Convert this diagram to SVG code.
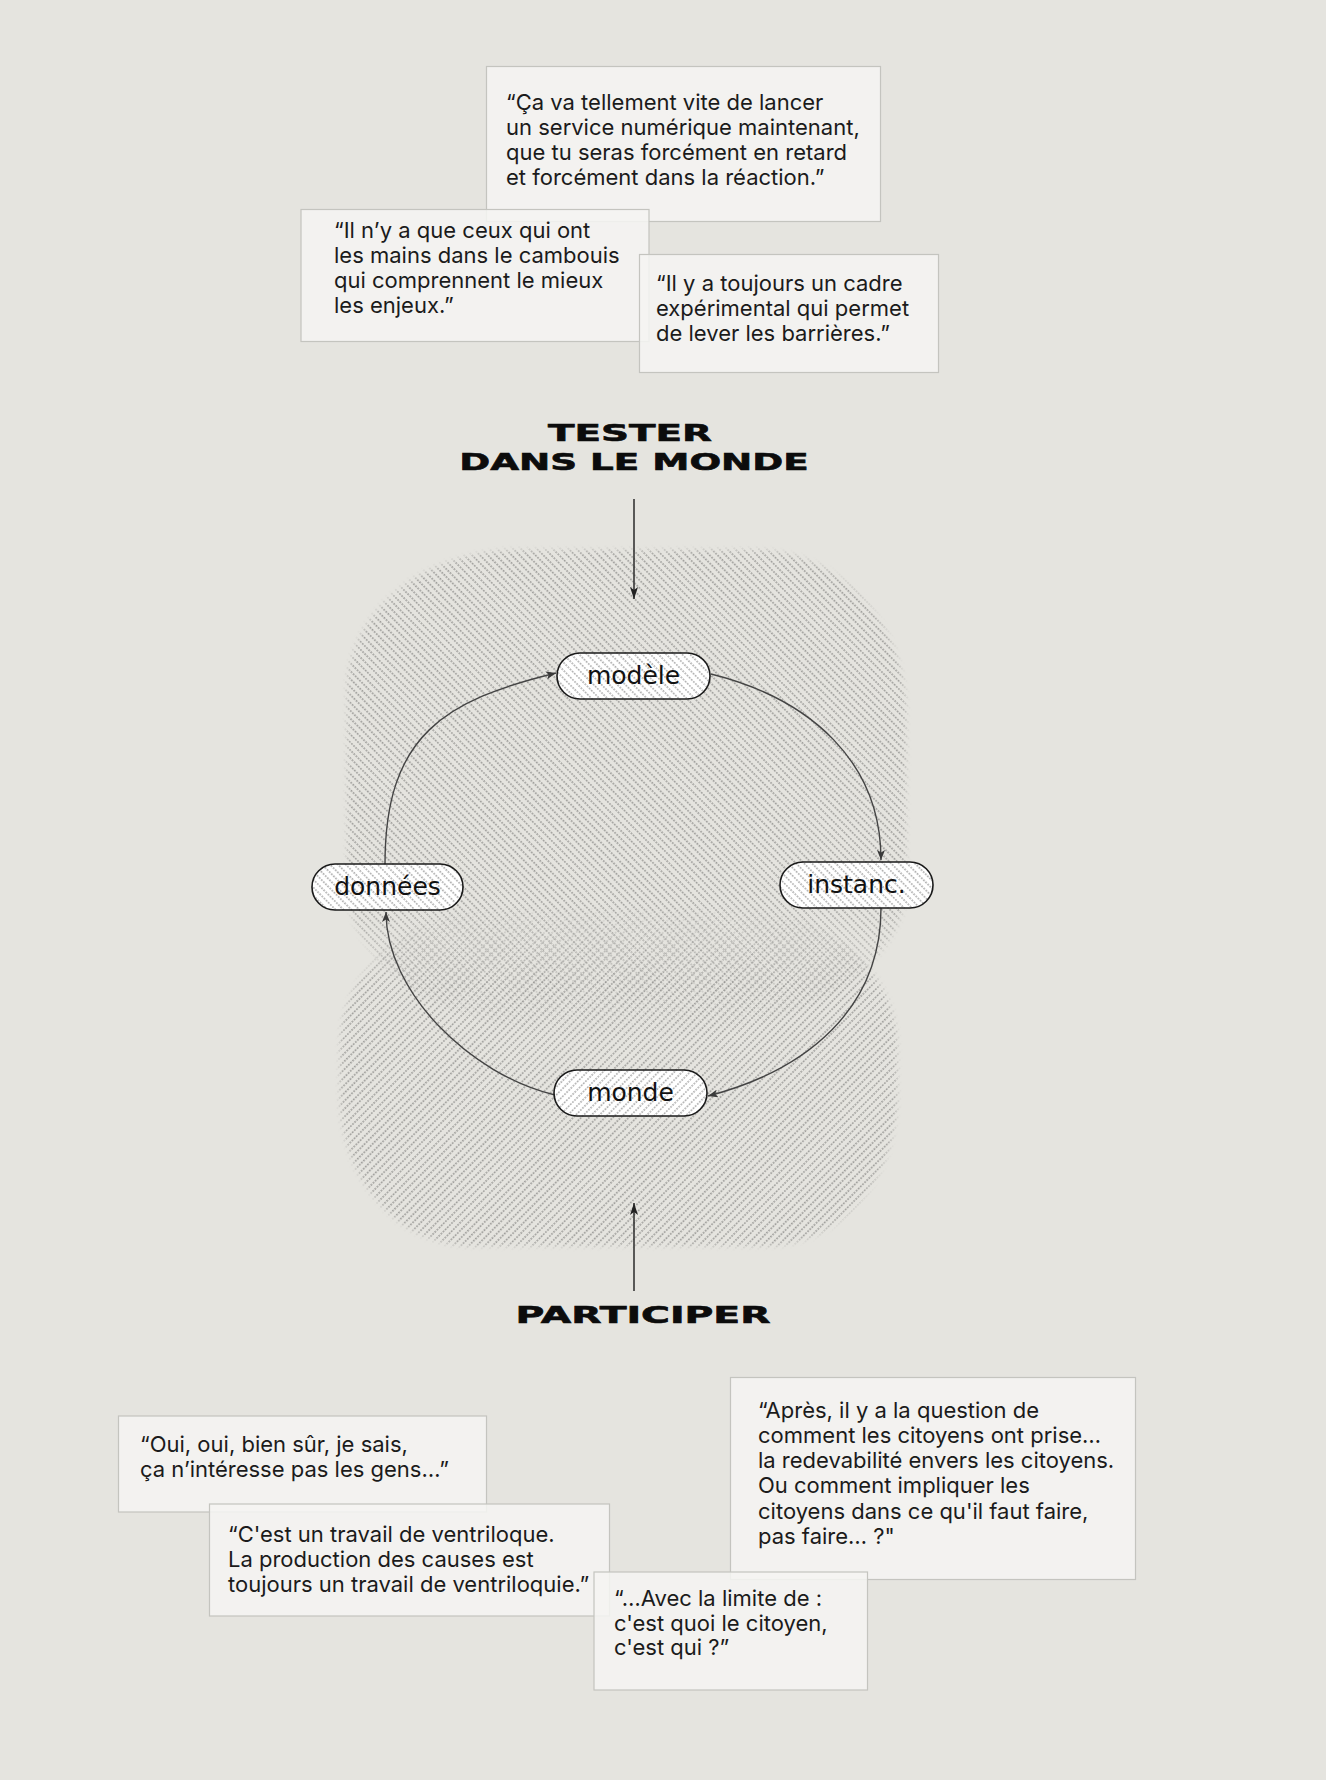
<svg xmlns="http://www.w3.org/2000/svg" width="1326" height="1780" viewBox="0 0 1326 1780">
<style>
.q{font-family:Inter,"Liberation Sans",sans-serif;font-size:22px;fill:#1b1b1b}
.box{fill:#f4f4f2;fill-opacity:0.86;stroke:#c4c4bf;stroke-width:1.2}
.nd{font-family:"DejaVu Sans","Liberation Sans",sans-serif;font-size:25px;fill:#111;text-anchor:middle}
.nb{fill:#fff}
.ns{fill:none;stroke:#1a1a1a;stroke-width:1.6}
.ttl{font-family:"DejaVu Sans","Liberation Sans",sans-serif;font-weight:bold;font-size:22.6px;fill:#0c0c0c;stroke:#0c0c0c;stroke-width:0.6;text-anchor:middle}
.arc{fill:none;stroke:#444;stroke-width:1.4}
.ax{fill:none;stroke:#2a2a2a;stroke-width:1.5}
</style>
<defs>
<pattern id="hA" patternUnits="userSpaceOnUse" width="6" height="5.6" patternTransform="rotate(45)">
<line x1="0" y1="2.8" x2="6" y2="2.8" stroke="#4a4a4a" stroke-width="0.85" stroke-dasharray="1.6 1.4"/>
</pattern>
<pattern id="hB" patternUnits="userSpaceOnUse" width="6" height="5.6" patternTransform="rotate(-45)">
<line x1="0" y1="2.8" x2="6" y2="2.8" stroke="#4a4a4a" stroke-width="0.85" stroke-dasharray="1.6 1.4"/>
</pattern>
<linearGradient id="gU" gradientUnits="userSpaceOnUse" x1="0" y1="900" x2="0" y2="1045">
<stop offset="0" stop-color="#fff"/><stop offset="1" stop-color="#000"/>
</linearGradient>
<linearGradient id="gL" gradientUnits="userSpaceOnUse" x1="0" y1="900" x2="0" y2="985">
<stop offset="0" stop-color="#000"/><stop offset="1" stop-color="#fff"/>
</linearGradient>
<filter id="soft" x="-10%" y="-10%" width="120%" height="120%"><feGaussianBlur stdDeviation="2.5"/></filter>
<mask id="mU" maskUnits="userSpaceOnUse" x="0" y="0" width="1326" height="1780">
<path d="M517,550 L756,550 A150 163 0 0 1 906,713 L906,880 A240 150 0 0 1 666,1035 L587,1035 A240 150 0 0 1 347,880 L347,690 A170 140 0 0 1 517,550 Z" fill="url(#gU)" filter="url(#soft)"/>
</mask>
<mask id="mL" maskUnits="userSpaceOnUse" x="0" y="0" width="1326" height="1780">
<path d="M510,905 L727,905 A170 140 0 0 1 897,1045 L897,1096 A130 150 0 0 1 767,1246 L470,1246 A130 150 0 0 1 340,1096 L340,1045 A170 140 0 0 1 510,905 Z" fill="url(#gL)" filter="url(#soft)"/>
</mask>
<marker id="ah" viewBox="0 0 10 8" refX="10" refY="4" markerWidth="10" markerHeight="8" markerUnits="userSpaceOnUse" orient="auto">
<path d="M0,0 L10,4 L0,8 L2.5,4 Z" fill="#3a3a3a"/>
</marker>
<marker id="ahb" viewBox="0 0 12 8" refX="12" refY="4" markerWidth="12" markerHeight="8" markerUnits="userSpaceOnUse" orient="auto">
<path d="M0,0 L12,4 L0,8 L3,4 Z" fill="#222"/>
</marker>
</defs>
<rect width="1326" height="1780" fill="#e5e4df"/>

<g id="fields">
<rect x="330" y="530" width="600" height="520" fill="url(#hA)" mask="url(#mU)"/>
<rect x="320" y="890" width="600" height="380" fill="url(#hB)" mask="url(#mL)"/>
</g>

<g id="quotes-top">
<g id="q1">
<rect class="box" x="486.5" y="66.5" width="394" height="155"/>
<text class="q"><tspan x="506" y="110">“Ça va tellement vite de lancer</tspan><tspan x="506" y="135">un service numérique maintenant,</tspan><tspan x="506" y="160">que tu seras forcément en retard</tspan><tspan x="506" y="185">et forcément dans la réaction.”</tspan></text>
</g>
<g id="q2">
<rect class="box" x="301" y="209.5" width="348" height="132"/>
<text class="q"><tspan x="334" y="238">“Il n’y a que ceux qui ont</tspan><tspan x="334" y="263">les mains dans le cambouis</tspan><tspan x="334" y="288">qui comprennent le mieux</tspan><tspan x="334" y="313">les enjeux.”</tspan></text>
</g>
<g id="q3">
<rect class="box" x="639.5" y="254.5" width="299" height="118"/>
<text class="q"><tspan x="656" y="291">“Il y a toujours un cadre</tspan><tspan x="656" y="316">expérimental qui permet</tspan><tspan x="656" y="341">de lever les barrières.”</tspan></text>
</g>
</g>

<g id="label-tester">
<text class="ttl" transform="translate(630,440.5) scale(1.72,1)">TESTER</text>
<text class="ttl" transform="translate(634,470) scale(1.65,1)">DANS LE MONDE</text>
</g>
<g id="label-participer">
<text class="ttl" transform="translate(643,1323) scale(1.74,1)">PARTICIPER</text>
</g>

<g id="connectors">
<line class="ax" x1="634" y1="499" x2="634" y2="599" marker-end="url(#ahb)"/>
<line class="ax" x1="634" y1="1291" x2="634" y2="1203" marker-end="url(#ahb)"/>
<path class="arc" d="M385,864 C385,734 446,700 556,673" marker-end="url(#ah)"/>
<path class="arc" d="M711,674 C811,699 881,762 881,860" marker-end="url(#ah)"/>
<path class="arc" d="M881,908 C881,1008 808,1070 708,1096" marker-end="url(#ah)"/>
<path class="arc" d="M555,1095 C470,1074.6 386,992 386,912" marker-end="url(#ah)"/>
</g>

<g id="node-modele">
<rect class="nb" x="557" y="653" width="153" height="46" rx="23"/>
<rect x="557" y="653" width="153" height="46" rx="23" fill="url(#hA)"/>
<rect class="ns" x="557" y="653" width="153" height="46" rx="23"/>
<text class="nd" x="633.5" y="684">modèle</text>
</g>
<g id="node-donnees">
<rect class="nb" x="312" y="864" width="151" height="46" rx="23"/>
<rect x="312" y="864" width="151" height="46" rx="23" fill="url(#hA)"/>
<rect class="ns" x="312" y="864" width="151" height="46" rx="23"/>
<text class="nd" x="387.5" y="895">données</text>
</g>
<g id="node-instanc">
<rect class="nb" x="780" y="862" width="153" height="46" rx="23"/>
<rect x="780" y="862" width="153" height="46" rx="23" fill="url(#hA)"/>
<rect class="ns" x="780" y="862" width="153" height="46" rx="23"/>
<text class="nd" x="856.5" y="893">instanc.</text>
</g>
<g id="node-monde">
<rect class="nb" x="554" y="1070" width="153" height="46" rx="23"/>
<rect x="554" y="1070" width="153" height="46" rx="23" fill="url(#hB)"/>
<rect class="ns" x="554" y="1070" width="153" height="46" rx="23"/>
<text class="nd" x="630.5" y="1101">monde</text>
</g>

<g id="quotes-bottom">
<g id="q4">
<rect class="box" x="118.5" y="1416" width="368" height="96"/>
<text class="q"><tspan x="140" y="1452">“Oui, oui, bien sûr, je sais,</tspan><tspan x="140" y="1477">ça n’intéresse pas les gens…”</tspan></text>
</g>
<g id="q7">
<rect class="box" x="730.5" y="1377.5" width="405" height="202"/>
<text class="q"><tspan x="758" y="1418">“Après, il y a la question de</tspan><tspan x="758" y="1443">comment les citoyens ont prise…</tspan><tspan x="758" y="1468">la redevabilité envers les citoyens.</tspan><tspan x="758" y="1493">Ou comment impliquer les</tspan><tspan x="758" y="1519">citoyens dans ce qu'il faut faire,</tspan><tspan x="758" y="1544">pas faire… ?"</tspan></text>
</g>
<g id="q5">
<rect class="box" x="209.5" y="1504" width="400" height="112"/>
<text class="q"><tspan x="228" y="1542">“C'est un travail de ventriloque.</tspan><tspan x="228" y="1567">La production des causes est</tspan><tspan x="228" y="1592">toujours un travail de ventriloquie.”</tspan></text>
</g>
<g id="q6">
<rect class="box" x="594" y="1572" width="273.5" height="118"/>
<text class="q"><tspan x="614" y="1606">“…Avec la limite de :</tspan><tspan x="614" y="1631">c'est quoi le citoyen,</tspan><tspan x="614" y="1655">c'est qui ?”</tspan></text>
</g>
</g>
</svg>
